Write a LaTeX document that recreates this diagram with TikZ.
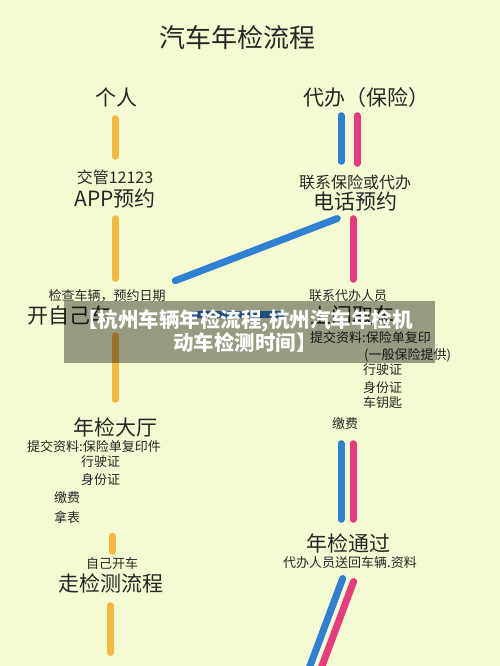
\documentclass[tikz,border=0pt]{standalone}
\usepackage{fontspec}
\setmainfont{Noto Sans CJK SC}
\usetikzlibrary{positioning}
\definecolor{bgcol}{HTML}{F4FBD3}
\definecolor{ylcol}{HTML}{F5B83F}
\definecolor{blcol}{HTML}{2F7FD2}
\definecolor{pkcol}{HTML}{E83A7C}
\definecolor{inkcol}{HTML}{262626}

\begin{document}
\begin{tikzpicture}[
    x=1pt, y=-1pt,
    every node/.style={inner sep=0pt, text=inkcol},
    titletext/.style={font=\fontsize{26}{30}\selectfont, text height=22.9pt, text depth=3.1pt},
    head/.style={font=\fontsize{21}{24}\selectfont, text height=18.5pt, text depth=2.5pt},
    sub/.style={font=\fontsize{16}{19}\selectfont, text height=14.1pt, text depth=1.9pt},
    note/.style={font=\fontsize{13}{15}\selectfont, text height=11.4pt, text depth=1.6pt},
    road/.style={line width=7pt, line cap=round},
    yline/.style={road, draw=ylcol},
    bline/.style={road, draw=blcol},
    pline/.style={road, draw=pkcol},
    band/.style={fill=black, fill opacity=0.38, minimum width=371pt, minimum height=62pt},
    captext/.style={text=white, align=center, font=\fontsize{20.5}{23}\selectfont\bfseries}
]

   \fill[bgcol] (0,0) rectangle (500,666);
   \clip (0,0) rectangle (500,666);

   % headings
   \node[titletext] (title) at (237,38) {汽车年检流程};
   \node[head] (geren) at (116,98) {个人};
   \node[head] (daiban) at (366,98) {代办（保险）};

   % own car, left column
   \node[sub] (jiaoguan) at (115,177) {交管12123};
   \node[head] (app) at (115,198) {APP预约};
   \node[note] (jiancha) at (107,296) {检查车辆，预约日期};
   \node[head, anchor=west] (kaiziji) at (27,315) {开自己车};
   \node[head] (dating) at (115,427) {年检大厅};
   \node[note, anchor=west] (tijiaoL) at (27,447) {提交资料:保险单复印件};
   \node[note, anchor=west] (xingshiL) at (81,462) {行驶证};
   \node[note, below=4pt of xingshiL.south west, anchor=north west] (shenfenL) {身份证};
   \node[note, anchor=west] (jiaofeiL) at (54,498) {缴费};
   \node[note, below=6pt of jiaofeiL.south west, anchor=north west] (nabiao) {拿表};
   \node[note] (ziji) at (112,564) {自己开车};
   \node[head] (zou) at (111,583) {走检测流程};

   % agent, right column
   \node[sub] (lianxi) at (355,182) {联系保险或代办};
   \node[head] (dianhua) at (355,201) {电话预约};
   \node[note] (lianxiren) at (348,296) {联系代办人员};
   \node[head] (shangmen) at (352,315) {上门取车};
   \node[note, anchor=west] (tijiaoR) at (310,338) {提交资料:保险单复印};
   \node[note, anchor=west] (baoxianR) at (364,355) {(一般保险提供)};
   \node[note, anchor=west] (xingshiR) at (363,370) {行驶证};
   \node[note, below=4pt of xingshiR.south west, anchor=north west] (shenfenR) {身份证};
   \node[note, below=2pt of shenfenR.south west, anchor=north west] (yaoshiR) {车钥匙};
   \node[note] (jiaofeiR) at (345,424) {缴费};
   \node[head] (tongguo) at (348,543) {年检通过};
   \node[note] (songhui) at (350,563) {代办人员送回车辆.资料};

   % yellow route
   \draw[yline, shorten <=10pt, shorten >=12.5pt] (jiaoguan.north |- geren.south) -- (jiaoguan.north);
   \draw[yline, shorten <=10pt, shorten >=11pt] (app.south) -- (app.south |- jiancha.north);
   \draw[yline, shorten <=10pt, shorten >=17pt] (dating.north |- kaiziji.south) -- (dating.north);
   \draw[yline, shorten <=12pt, shorten >=6pt] (ziji.north |- nabiao.south) -- (ziji.north);
   \coordinate (zoutail) at (110,652.5);
   \draw[yline, shorten <=12pt] (zoutail |- zou.south) -- (zoutail);

   % blue and pink routes
   \coordinate (bltop) at ([xshift=-25pt]daiban.south);
   \coordinate (pktop) at ([xshift=-9pt]daiban.south);
   \draw[bline, shorten <=7pt, shorten >=12.5pt] (bltop) -- (bltop |- lianxi.north);
   \draw[pline, shorten <=7pt, shorten >=10.5pt] (pktop) -- (pktop |- lianxi.north);
   \coordinate (bluestub) at (175.3,280.7);
   \draw[bline, shorten <=19pt] (dianhua.south) -- (bluestub);
   \coordinate (pkmid) at ([xshift=-2pt]dianhua.south);
   \draw[pline, shorten <=7pt, shorten >=10pt] (pkmid) -- (pkmid |- lianxiren.north);
   \coordinate (bandL) at (193.5,314);
   \coordinate (bandR) at (281.5,314);
   \draw[bline] (bandL) -- (bandR);

   \coordinate (blfee) at ([xshift=-4pt]jiaofeiR.south);
   \coordinate (pkfee) at ([xshift=8pt]jiaofeiR.south);
   \draw[bline, shorten <=13pt, shorten >=13pt] (blfee) -- (blfee |- tongguo.north);
   \draw[pline, shorten <=13pt, shorten >=13pt] (pkfee) -- (pkfee |- tongguo.north);
   \coordinate (blueout) at (301,690);
   \coordinate (pinkout) at (313,690);
   \draw[bline, shorten <=9.4pt] ([xshift=-4pt]songhui.south) -- (blueout);
   \draw[pline, shorten <=12.6pt] ([xshift=8pt]songhui.south) -- (pinkout);

   % caption banner on top
   \node[band] (banner) at (249.5,332) {};
   \node[captext] (caption) at (245,331.5) {【杭州车辆年检流程,杭州汽车年检机\\动车检测时间】};
\end{tikzpicture}
\end{document}
